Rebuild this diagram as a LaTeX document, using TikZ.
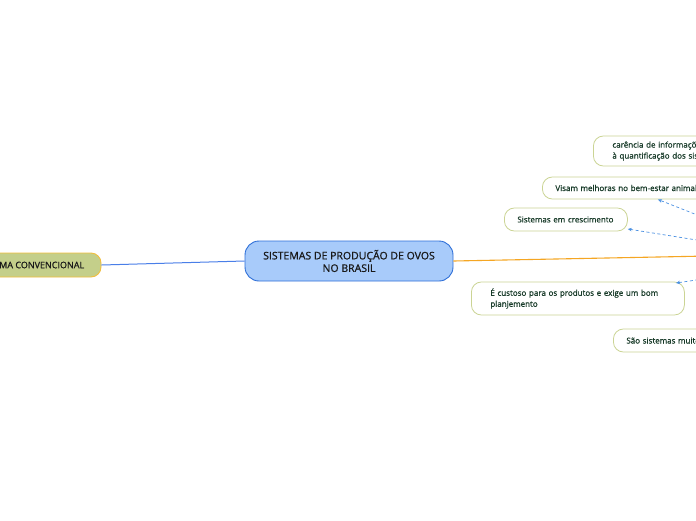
\documentclass[tikz,border=0pt]{standalone}
\usepackage{fontspec}
\setmainfont{Open Sans}[FakeBold=1.2]
\newfontfamily\semib{Open Sans}[FakeBold=0.8]
\newfontfamily\semibc{Open Sans}[FakeBold=1.0]
\usetikzlibrary{arrows.meta}
\definecolor{cfill}{HTML}{A8CBFA}
\definecolor{cborder}{HTML}{2E6FD8}
\definecolor{lfill}{HTML}{C4CF8A}
\definecolor{lborder}{HTML}{F2BE3C}
\definecolor{orangeline}{HTML}{F5A623}
\definecolor{blueline}{HTML}{4A7FE8}
\definecolor{childborder}{HTML}{CBD494}
\definecolor{childtext}{HTML}{173A28}
\definecolor{dashblue}{HTML}{4A90E2}
\tikzset{
  central/.style={draw=cborder, fill=cfill, line width=0.9pt, rounded corners=14pt,
    minimum width=208pt, minimum height=40pt, align=center, font=\semibc\fontsize{10.5}{12.5}\selectfont, text=black!90},
  mainbr/.style={draw=lborder, fill=lfill, line width=0.9pt, rounded corners=10pt,
    minimum width=141pt, minimum height=24pt, align=center, font=\semibc\fontsize{9}{11}\selectfont, text=black!90},
  childbox/.style={draw=childborder, fill=white, line width=0.8pt, rounded corners=10pt,
    align=left, font=\semib\fontsize{8}{11}\selectfont, text=childtext, anchor=west},
  dasharrow/.style={draw=dashblue, dashed, dash pattern=on 3pt off 2.5pt, line width=0.7pt,
    -{Stealth[length=4pt,width=3.5pt]}},
}
\begin{document}
\begin{tikzpicture}[x=1pt,y=-1pt]
\useasboundingbox (0,0) rectangle (696,520);
\clip (0,0) rectangle (696,520);
\fill[white] (0,0) rectangle (696,520);

\node[central] (c) at (349,261) {SISTEMAS DE PRODUÇÃO DE OVOS\\NO BRASIL};
\node[mainbr] (conv) at (30.5,265) {SISTEMA CONVENCIONAL};

\node[childbox, minimum height=30pt, text width=180pt, inner xsep=19pt] (car) at (593,151)
  {carência de informações relacionadas\\à quantificação dos sistemas};
\node[childbox, minimum height=22pt, text width=180pt, inner xsep=13pt] (vis) at (542,188)
  {Visam melhoras no bem-estar animal};
\node[childbox, minimum height=23pt, text width=97pt, inner xsep=13pt] (cre) at (504,219.5)
  {Sistemas em crescimento};
\node[childbox, minimum height=33pt, text width=175pt, inner xsep=19pt] (cus) at (471,298.5)
  {É custoso para os produtos e exige um bom\\planjemento};
\node[childbox, minimum height=23pt, text width=150pt, inner xsep=13pt] (sao) at (613,340.5)
  {São sistemas muito utilizados};

\coordinate (r) at (760,255);
\coordinate (h1) at (720,224);
\coordinate (h2) at (720,243.7);
\coordinate (h3) at (720,276.5);

\draw[blueline, line width=1pt] (conv.east) -- (c.west);
\draw[orangeline, line width=1.1pt] (c.east) -- (r);
\draw[dasharrow] (h1) -- (658,199.5);
\draw[dasharrow] (h2) -- (cre.east |- 0,229);
\draw[dasharrow] (h3) -- (676,283);
\end{tikzpicture}
\end{document}
